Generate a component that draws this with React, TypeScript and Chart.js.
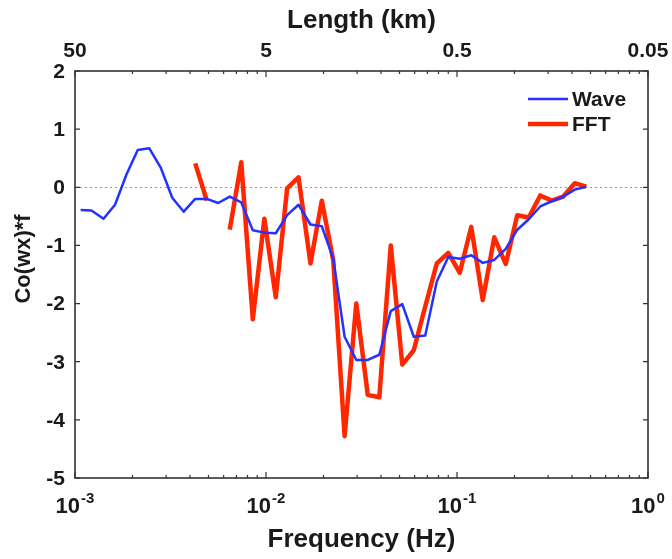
import React, { useEffect, useRef } from "react";
import { Chart, registerables } from "chart.js";

Chart.register(...registerables);

// Frequency bins (Hz), ascending
const frequency = [
  0.00107, 0.00122, 0.00141, 0.00162, 0.00186, 0.00213, 0.00245, 0.00281, 0.00323,
  0.00371, 0.00426, 0.0049, 0.00562, 0.00646, 0.00742, 0.00853, 0.0098, 0.01125,
  0.0129, 0.0148, 0.0171, 0.0196, 0.0225, 0.0258, 0.0297, 0.0341, 0.0392, 0.045,
  0.0517, 0.0594, 0.0682, 0.0784, 0.09, 0.1034, 0.11875, 0.1364, 0.1567, 0.18,
  0.2068, 0.2375, 0.2728, 0.3134, 0.36, 0.4135, 0.475,
];

// Wavelet cospectrum Co(wx)*f
const wave = [
  -0.39, -0.4, -0.54, -0.3, 0.22, 0.64, 0.67, 0.34, -0.18, -0.42, -0.2, -0.2, -0.27,
  -0.16, -0.26, -0.74, -0.78, -0.79, -0.48, -0.3, -0.64, -0.67, -1.23, -2.57, -2.97,
  -2.97, -2.88, -2.13, -2.01, -2.57, -2.55, -1.62, -1.2, -1.23, -1.17, -1.3, -1.25,
  -1.06, -0.73, -0.55, -0.33, -0.24, -0.16, -0.04, 0.01,
];

// FFT cospectrum Co(wx)*f (null where no estimate)
const fft = [
  null, null, null, null, null, null, null, null, null, null, 0.41, -0.23, null,
  -0.73, 0.43, -2.27, -0.54, -1.89, -0.02, 0.17, -1.31, -0.23, -1.26, -4.28, -2.0,
  -3.57, -3.61, -1.0, -3.05, -2.8, -2.05, -1.31, -1.13, -1.47, -0.68, -1.94, -0.86,
  -1.32, -0.48, -0.52, -0.14, -0.23, -0.16, 0.07, 0.01,
];

const freqTicks = [0.001, 0.01, 0.1, 1];
const freqExponents = ["-3", "-2", "-1", "0"];
const lengthLabels = ["50", "5", "0.5", "0.05"];
const yTicks = [2, 1, 0, -1, -2, -3, -4, -5];

const seriesNames = ["Wave", "FFT"];
const seriesColors = ["rgb(35,50,255)", "rgb(255,38,0)"];
const seriesWidths = [2.5, 4.5];

const FONT = '"Liberation Sans", Arial, Helvetica, sans-serif';
const AXIS_COLOR = "#333333";
const WIDTH = 672;
const HEIGHT = 559;

const axesPlugin = {
  id: "matlabAxes",
  beforeDatasetsDraw(chart: any) {
    const { ctx, chartArea: a, scales } = chart;
    const y0 = scales.y.getPixelForValue(0);
    ctx.save();
    ctx.strokeStyle = "#9a9a9a";
    ctx.lineWidth = 1;
    ctx.setLineDash([2, 3]);
    ctx.beginPath();
    ctx.moveTo(a.left, Math.round(y0) + 0.5);
    ctx.lineTo(a.right, Math.round(y0) + 0.5);
    ctx.stroke();
    ctx.restore();
  },
  afterDatasetsDraw(chart: any) {
    const { ctx, chartArea: a, scales } = chart;
    const xs = scales.x;
    const ys = scales.y;
    ctx.save();

    // frame
    ctx.strokeStyle = AXIS_COLOR;
    ctx.lineWidth = 1.6;
    ctx.strokeRect(a.left, a.top, a.right - a.left, a.bottom - a.top);

    // y ticks (inward, both sides)
    ctx.lineWidth = 1.2;
    ctx.beginPath();
    for (const v of yTicks) {
      const py = ys.getPixelForValue(v);
      ctx.moveTo(a.left, py);
      ctx.lineTo(a.left + 5, py);
      ctx.moveTo(a.right, py);
      ctx.lineTo(a.right - 5, py);
    }
    // x ticks: decades and minor ticks, bottom and top
    for (let d = 0; d < freqTicks.length; d++) {
      const base = freqTicks[d];
      for (let m = 1; m <= 9; m++) {
        const f = base * m;
        if (f > freqTicks[freqTicks.length - 1] + 1e-12) break;
        const px = xs.getPixelForValue(f);
        const len = m === 1 ? 6 : 3;
        ctx.moveTo(px, a.bottom);
        ctx.lineTo(px, a.bottom - len);
        ctx.moveTo(px, a.top);
        ctx.lineTo(px, a.top + len);
      }
    }
    ctx.stroke();

    ctx.fillStyle = "#1a1a1a";

    // y tick labels
    ctx.font = `bold 21px ${FONT}`;
    ctx.textAlign = "right";
    ctx.textBaseline = "middle";
    for (const v of yTicks) {
      ctx.fillText(String(v), a.left - 10, ys.getPixelForValue(v) + 1);
    }

    // bottom tick labels 10^n
    ctx.textBaseline = "alphabetic";
    ctx.textAlign = "left";
    freqTicks.forEach((f, i) => {
      const px = xs.getPixelForValue(f);
      ctx.font = `bold 22px ${FONT}`;
      const wBase = ctx.measureText("10").width;
      ctx.font = `bold 15px ${FONT}`;
      const wExp = ctx.measureText(freqExponents[i]).width;
      const start = px - (wBase + wExp + 1) / 2;
      ctx.font = `bold 22px ${FONT}`;
      ctx.fillText("10", start, a.bottom + 35);
      ctx.font = `bold 15px ${FONT}`;
      ctx.fillText(freqExponents[i], start + wBase + 1, a.bottom + 25);
    });

    // top tick labels (length)
    ctx.font = `bold 21px ${FONT}`;
    ctx.textAlign = "center";
    freqTicks.forEach((f, i) => {
      ctx.fillText(lengthLabels[i], xs.getPixelForValue(f), a.top - 14);
    });

    // axis titles
    const cx = (a.left + a.right) / 2;
    ctx.font = `bold 26px ${FONT}`;
    ctx.fillText("Length (km)", cx, a.top - 43);
    ctx.fillText("Frequency (Hz)", cx, a.bottom + 69);

    ctx.save();
    ctx.translate(24, 259);
    ctx.rotate(-Math.PI / 2);
    ctx.font = `bold 22px ${FONT}`;
    ctx.textBaseline = "middle";
    ctx.fillText("Co(wx)*f", 0, 0);
    ctx.restore();

    // legend
    const legX = 528;
    const legY = [99, 124];
    seriesNames.forEach((name, i) => {
      ctx.strokeStyle = seriesColors[i];
      ctx.lineWidth = seriesWidths[i];
      ctx.beginPath();
      ctx.moveTo(legX, legY[i]);
      ctx.lineTo(legX + 40, legY[i]);
      ctx.stroke();
      ctx.fillStyle = "#1a1a1a";
      ctx.font = `bold 21px ${FONT}`;
      ctx.textAlign = "left";
      ctx.textBaseline = "middle";
      ctx.fillText(name, legX + 44, legY[i] + 1);
    });

    ctx.restore();
  },
};

export default function App() {
  const canvasRef = useRef<HTMLCanvasElement | null>(null);

  useEffect(() => {
    document.body.style.margin = "0";
    document.documentElement.style.overflow = "hidden";
    if (!canvasRef.current) return;
    const toPoints = (vals: (number | null)[]) =>
      frequency.map((f, i) => ({ x: f, y: vals[i] }));

    const chart = new Chart(canvasRef.current, {
      type: "line",
      data: {
        datasets: [
          {
            label: seriesNames[0],
            data: toPoints(wave),
            borderColor: seriesColors[0],
            borderWidth: seriesWidths[0],
            pointRadius: 0,
            tension: 0,
            spanGaps: false,
            borderJoinStyle: "round",
          },
          {
            label: seriesNames[1],
            data: toPoints(fft),
            borderColor: seriesColors[1],
            borderWidth: seriesWidths[1],
            pointRadius: 0,
            tension: 0,
            spanGaps: false,
            borderJoinStyle: "round",
          },
        ],
      } as any,
      options: {
        responsive: false,
        animation: false,
        devicePixelRatio: 1,
        layout: { padding: { left: 75, right: 24, top: 71, bottom: 81 } },
        plugins: {
          legend: { display: false },
          tooltip: { enabled: false },
        },
        scales: {
          x: { type: "logarithmic", min: 0.001, max: 1, display: false },
          y: { type: "linear", min: -5, max: 2, display: false },
        },
      },
      plugins: [axesPlugin],
    });
    return () => chart.destroy();
  }, []);

  return (
    <div style={{ width: WIDTH, height: HEIGHT }}>
      <canvas ref={canvasRef} width={WIDTH} height={HEIGHT} style={{ display: "block" }} />
    </div>
  );
}
